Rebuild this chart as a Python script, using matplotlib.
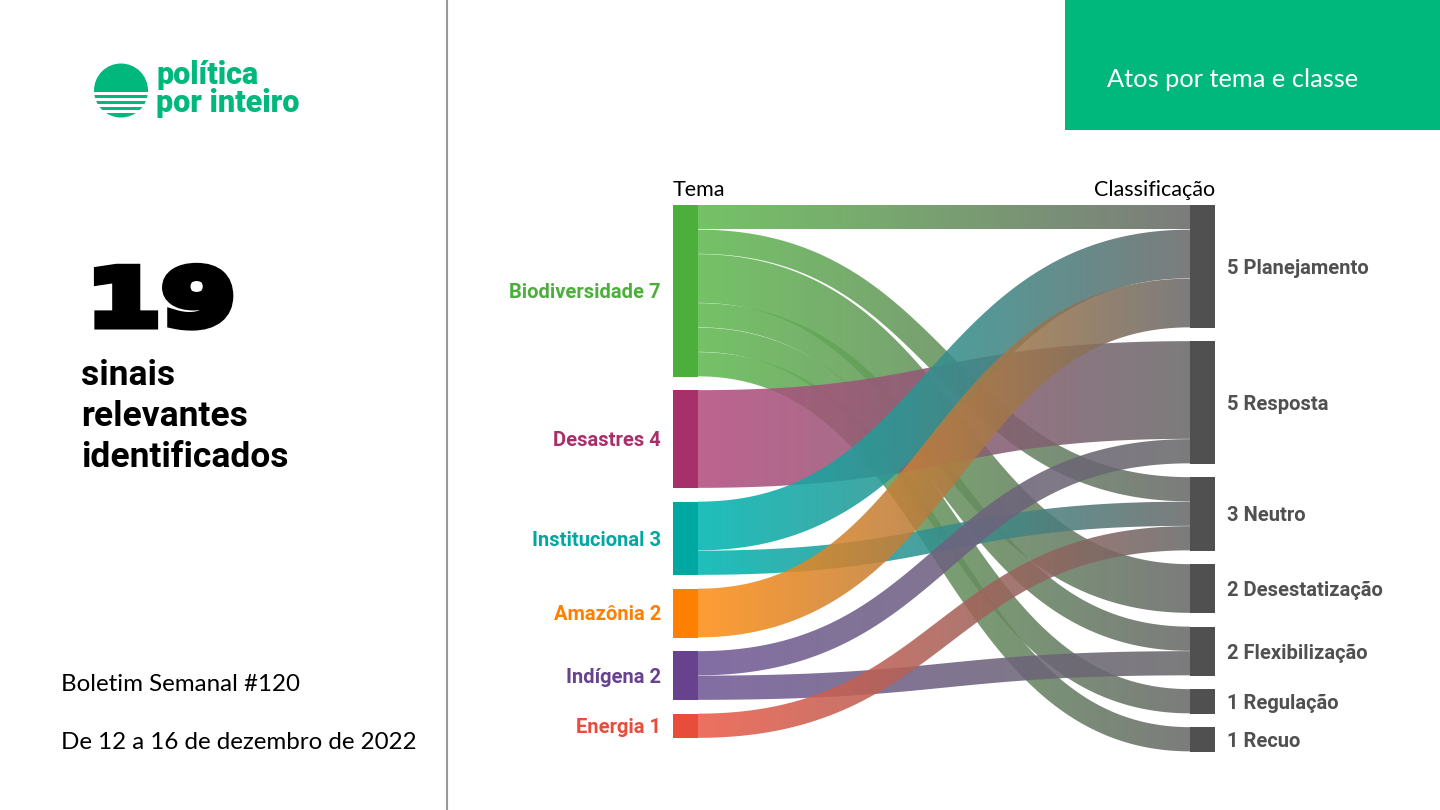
#!/usr/bin/env python
'''Sankey: atos por tema e classe (Boletim Semanal #120).'''

import numpy as np
import matplotlib as mpl
mpl.use('agg')
import matplotlib.pyplot as plt
from matplotlib.patches import Polygon, Circle, Rectangle
from matplotlib import patheffects
from matplotlib.colors import to_rgb
from matplotlib.transforms import Affine2D

# data
themes = ['Biodiversidade', 'Desastres', 'Institucional', 'Amazônia', 'Indígena', 'Energia']
theme_counts = [7, 4, 3, 2, 2, 1]
theme_colors = ['#4caf3c', '#a8306a', '#00a8a2', '#ff7f00', '#66428f', '#e84c3a']
link_colors = ['#62ba52', '#b44e80', '#00b6b2', '#ff8f18', '#735a98', '#ec5c4a']

classes = ['Planejamento', 'Resposta', 'Neutro', 'Desestatização', 'Flexibilização',
           'Regulação', 'Recuo']
class_counts = [5, 5, 3, 2, 2, 1, 1]
class_color = '#505050'
class_link_color = '#6a6a6a'

link_src = ['Biodiversidade', 'Biodiversidade', 'Biodiversidade', 'Biodiversidade',
            'Biodiversidade', 'Biodiversidade', 'Desastres', 'Institucional',
            'Institucional', 'Amazônia', 'Indígena', 'Indígena', 'Energia']
link_tgt = ['Planejamento', 'Neutro', 'Desestatização', 'Flexibilização', 'Regulação',
            'Recuo', 'Resposta', 'Planejamento', 'Neutro', 'Planejamento', 'Resposta',
            'Flexibilização', 'Neutro']
link_val = [1, 1, 2, 1, 1, 1, 4, 2, 1, 2, 1, 1, 1]

# layout (pixels)
W, H = 1440, 810
TOP = 205.
UNIT = 24.5
GAP = 13.5
NODE_W = 25.
X_LEFT = 673.
X_RIGHT = 1190.
GREEN = '#00b87c'
BOLD_FONT = 'Roboto'


class Widen(patheffects.AbstractPathEffect):
    """Stretch a text horizontally around a display x and embolden it."""

    def __init__(self, cx, sx, lw):
        super().__init__()
        self.cx, self.sx, self.lw = cx, sx, lw

    def draw_path(self, renderer, gc, tpath, affine, rgbFace=None):
        t = affine + Affine2D().translate(-self.cx, 0).scale(self.sx, 1).translate(self.cx, 0)
        gc0 = renderer.new_gc()
        gc0.copy_properties(gc)
        gc0.set_linewidth(self.lw)
        gc0.set_foreground(rgbFace)
        gc0.set_joinstyle('miter')
        renderer.draw_path(gc0, tpath, t, rgbFace)
        gc0.restore()


def node_positions(counts):
    """Top y of each node, stacked with gaps."""
    tops = []
    y = TOP
    for c in counts:
        tops.append(y)
        y += c * UNIT + GAP
    return np.array(tops)


def band_polygon(x0, x1, y0, y1, w, n=240):
    """Stroke-like band around a horizontal cubic bezier."""
    t = np.linspace(0, 1, n)
    xm = (x0 + x1) / 2.
    px = np.array([x0, xm, xm, x1])
    py = np.array([y0, y0, y1, y1])
    b = np.array([(1 - t) ** 3, 3 * (1 - t) ** 2 * t, 3 * (1 - t) * t ** 2, t ** 3])
    db = np.array([-3 * (1 - t) ** 2, 3 * (1 - t) ** 2 - 6 * (1 - t) * t,
                   6 * (1 - t) * t - 3 * t ** 2, 3 * t ** 2])
    cx, cy = px @ b, py @ b
    dx, dy = px @ db, py @ db
    norm = np.hypot(dx, dy)
    nx, ny = -dy / norm, dx / norm
    up = np.column_stack([cx + nx * w / 2, cy + ny * w / 2])
    lo = np.column_stack([cx - nx * w / 2, cy - ny * w / 2])
    return np.vstack([up, lo[::-1]])


fig = plt.figure(figsize=(14.4, 8.1), dpi=100)
ax = fig.add_axes([0, 0, 1, 1])
ax.set_xlim(0, W)
ax.set_ylim(H, 0)
ax.axis('off')

# left panel
ax.plot([447, 447], [0, H], color='#9a9a9a', lw=1.5)
ax.add_patch(Circle((121, 90.5), 27, color=GREEN, lw=0))
for ys in (93.5, 99.5, 105.5, 111.5):
    ax.add_patch(Rectangle((90, ys - 1.1), 62, 2.2, color='white', lw=0))
ax.text(156, 112, 'política\npor inteiro', fontsize=22, fontweight='black',
        family=BOLD_FONT, color=GREEN, va='baseline', ha='left', linespacing=0.93)

ax.text(161, 325, '19', fontsize=56, fontweight='heavy', family='DejaVu Sans',
        color='black', ha='center', va='baseline',
        path_effects=[Widen(161, 1.38, 6.5)])
for i, line in enumerate(['sinais', 'relevantes', 'identificados']):
    ax.text(81, 385 + 41 * i, line, fontsize=25.5, fontweight='bold', family=BOLD_FONT,
            color='black', ha='left', va='baseline')
ax.text(61, 691, 'Boletim Semanal #120', fontsize=17.4, family='Lato',
        color='black', ha='left', va='baseline')
ax.text(61, 749, 'De 12 a 16 de dezembro de 2022', fontsize=17.4, family='Lato',
        color='black', ha='left', va='baseline')

# header box
ax.add_patch(Rectangle((1065, 0), W - 1065, 130, color=GREEN, lw=0))
ax.text(1107, 87, 'Atos por tema e classe', fontsize=18.3, family='Lato',
        color='white', ha='left', va='baseline')

# sankey
left_tops = node_positions(theme_counts)
right_tops = node_positions(class_counts)

src_off = {s: left_tops[i] for i, s in enumerate(themes)}
tgt_off = {c: right_tops[i] for i, c in enumerate(classes)}
links = list(zip(link_src, link_tgt, link_val))
src_y = {}
for s in themes:
    for l in sorted([l for l in links if l[0] == s], key=lambda l: classes.index(l[1])):
        src_y[l[:2]] = src_off[s]
        src_off[s] += l[2] * UNIT
tgt_y = {}
for c in classes:
    for l in sorted([l for l in links if l[1] == c], key=lambda l: themes.index(l[0])):
        tgt_y[l[:2]] = tgt_off[c]
        tgt_off[c] += l[2] * UNIT

x0, x1 = X_LEFT + NODE_W, X_RIGHT
for s, c, v in links:
    w = v * UNIT
    y0 = src_y[(s, c)] + w / 2
    y1 = tgt_y[(s, c)] + w / 2
    poly = band_polygon(x0, x1, y0, y1, w - 0.3)
    patch = Polygon(poly, closed=True, fc='none', ec='none', transform=ax.transData)
    ax.add_patch(patch)
    c0 = np.array(to_rgb(link_colors[themes.index(s)]))
    c1 = np.array(to_rgb(class_link_color))
    f = np.linspace(0, 1, 256)[:, None]
    grad = (c0 * (1 - f) + c1 * f)[None, :, :]
    im = ax.imshow(grad, extent=(x0, x1, poly[:, 1].max() + 2, poly[:, 1].min() - 2),
                   aspect='auto', alpha=0.88, interpolation='bilinear', zorder=2)
    im.set_clip_path(patch)

ax.bar([X_LEFT + NODE_W / 2] * len(themes), np.array(theme_counts) * UNIT,
       bottom=left_tops, width=NODE_W, color=theme_colors, zorder=3)
ax.bar([X_RIGHT + NODE_W / 2] * len(classes), np.array(class_counts) * UNIT,
       bottom=right_tops, width=NODE_W, color=class_color, zorder=3)

for i, t in enumerate(themes):
    ax.text(X_LEFT - 12, left_tops[i] + theme_counts[i] * UNIT / 2,
            '{} {}'.format(t, theme_counts[i]), fontsize=14.5, fontweight='bold',
            family=BOLD_FONT, color=theme_colors[i], ha='right', va='center_baseline')
for i, c in enumerate(classes):
    ax.text(X_RIGHT + NODE_W + 12, right_tops[i] + class_counts[i] * UNIT / 2,
            '{} {}'.format(class_counts[i], c), fontsize=14.5, fontweight='bold',
            family=BOLD_FONT, color=class_color, ha='left', va='center_baseline')

ax.text(X_LEFT, 196, 'Tema', fontsize=15.5, family='Lato', color='black',
        ha='left', va='baseline')
ax.text(X_RIGHT + NODE_W, 196, 'Classificação', fontsize=15.5, family='Lato',
        color='black', ha='right', va='baseline')

ax.set_xlim(0, W)
ax.set_ylim(H, 0)
fig.savefig('out.png', dpi=100)
